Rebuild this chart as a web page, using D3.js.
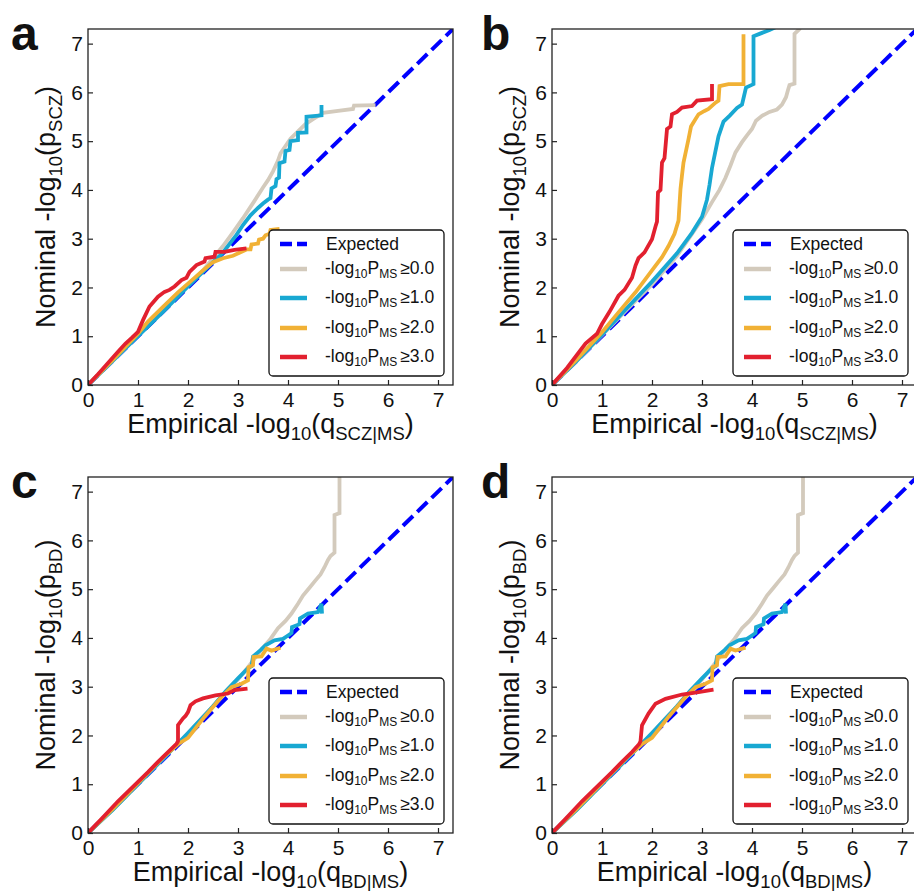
<!DOCTYPE html>
<html>
<head>
<meta charset="utf-8">
<script src="https://cdn.jsdelivr.net/npm/d3@7"></script>
<style>
  body { margin: 0; background: #fff; }
  svg { font-family: "Liberation Sans", Arial, sans-serif; }
</style>
</head>
<body>
<div id="container"></div>
<script>
// q-q curves: [empirical -log10 q, nominal -log10 p]
const aGrey = [[0,0],[0.5,0.5],[1.0,1.02],[1.5,1.55],[2.0,2.05],[2.3,2.35],[2.5,2.6],[2.7,2.85],[2.9,3.13],[3.1,3.42],[3.3,3.73],[3.5,4.05],[3.6,4.2],[3.7,4.38],[3.8,4.6],[3.85,4.75],[3.95,4.9],[4.05,5.05],[4.2,5.2],[4.35,5.35],[4.5,5.45],[4.7,5.58],[5.0,5.62],[5.3,5.66],[5.32,5.73],[5.75,5.74]];
const aCyan = [[0,0],[0.5,0.5],[1.0,1.0],[1.5,1.5],[2.0,2.02],[2.5,2.52],[2.67,2.68],[2.8,2.85],[2.95,3.05],[3.1,3.28],[3.25,3.48],[3.4,3.63],[3.5,3.72],[3.6,3.8],[3.65,3.83],[3.67,4.03],[3.75,4.08],[3.77,4.22],[3.82,4.25],[3.83,4.55],[3.93,4.58],[3.95,4.8],[4.03,4.82],[4.05,5.0],[4.2,5.02],[4.2,5.17],[4.37,5.18],[4.37,5.5],[4.67,5.53],[4.67,5.74]];
const aOrange = [[0,0],[0.5,0.52],[1.0,1.05],[1.2,1.3],[1.5,1.6],[1.8,1.9],[2.0,2.08],[2.3,2.35],[2.5,2.52],[2.7,2.6],[2.9,2.65],[3.17,2.78],[3.25,2.78],[3.27,2.88],[3.4,2.9],[3.42,2.98],[3.5,3.0],[3.55,3.07],[3.63,3.1],[3.65,3.18],[3.83,3.2]];
const aRed = [[0,0],[0.2,0.22],[0.4,0.45],[0.6,0.68],[0.75,0.85],[0.87,0.96],[1.0,1.09],[1.1,1.33],[1.23,1.61],[1.4,1.81],[1.53,1.91],[1.63,1.95],[1.73,2.02],[1.87,2.15],[1.97,2.2],[2.03,2.32],[2.17,2.46],[2.33,2.53],[2.35,2.6],[2.53,2.63],[2.55,2.73],[2.73,2.73],[2.93,2.77],[3.17,2.8]];

const bGrey = [[0,0],[0.5,0.5],[1.0,1.02],[1.5,1.55],[2.0,2.06],[2.5,2.65],[2.8,3.1],[3.0,3.4],[3.2,3.75],[3.35,4.0],[3.47,4.25],[3.57,4.5],[3.67,4.77],[3.8,4.98],[3.9,5.12],[4.0,5.25],[4.08,5.42],[4.2,5.52],[4.35,5.6],[4.5,5.65],[4.6,5.75],[4.68,5.9],[4.72,6.05],[4.75,6.15],[4.85,6.18],[4.85,7.2],[4.95,7.3],[5.0,7.6]];
const bCyan = [[0,0],[0.5,0.5],[1.0,1.03],[1.5,1.58],[2.0,2.12],[2.5,2.7],[2.8,3.12],[3.0,3.45],[3.1,3.8],[3.15,4.1],[3.2,4.45],[3.27,4.8],[3.33,5.1],[3.43,5.4],[3.55,5.52],[3.7,5.68],[3.8,5.75],[3.83,5.88],[3.88,6.1],[4.03,6.17],[4.03,7.15],[4.15,7.2],[4.35,7.28],[4.5,7.35]];
const bOrange = [[0,0],[0.5,0.53],[1.0,1.08],[1.33,1.49],[1.67,1.9],[2.0,2.35],[2.2,2.62],[2.33,2.85],[2.45,3.1],[2.53,3.37],[2.55,3.7],[2.57,4.02],[2.6,4.3],[2.63,4.56],[2.68,4.8],[2.73,5.04],[2.78,5.3],[2.85,5.42],[2.93,5.55],[3.05,5.62],[3.13,5.66],[3.27,5.79],[3.33,5.83],[3.35,6.13],[3.53,6.17],[3.83,6.17],[3.83,7.19]];
const bRed = [[0,0],[0.3,0.35],[0.67,0.85],[0.9,1.05],[1.0,1.25],[1.15,1.5],[1.33,1.83],[1.45,1.95],[1.6,2.2],[1.67,2.45],[1.73,2.6],[1.85,2.72],[2.0,2.99],[2.07,3.25],[2.1,3.35],[2.12,3.95],[2.17,4.0],[2.2,4.56],[2.25,4.65],[2.3,5.25],[2.37,5.3],[2.4,5.55],[2.5,5.6],[2.6,5.69],[2.8,5.72],[2.9,5.83],[3.2,5.86],[3.2,6.17]];

const cGrey = [[0,0],[0.5,0.48],[1.0,1.0],[1.5,1.52],[2.0,2.05],[2.5,2.6],[2.8,2.95],[3.0,3.15],[3.2,3.4],[3.35,3.6],[3.5,3.8],[3.65,3.98],[3.8,4.2],[3.95,4.35],[4.07,4.5],[4.2,4.7],[4.3,4.87],[4.43,5.03],[4.55,5.18],[4.65,5.3],[4.73,5.45],[4.8,5.6],[4.85,5.68],[4.93,5.75],[4.93,6.52],[5.03,6.56],[5.03,7.4]];
const cCyan = [[0,0],[0.5,0.48],[1.0,1.0],[1.5,1.52],[2.0,2.05],[2.5,2.6],[2.75,2.9],[3.0,3.17],[3.2,3.38],[3.27,3.42],[3.3,3.62],[3.45,3.75],[3.55,3.85],[3.73,3.95],[3.9,3.98],[4.0,4.05],[4.07,4.1],[4.08,4.22],[4.23,4.28],[4.24,4.4],[4.4,4.5],[4.6,4.53],[4.67,4.7],[4.68,4.5]];
const cOrange = [[0,0],[0.5,0.5],[1.0,1.02],[1.5,1.55],[1.8,1.82],[2.0,1.95],[2.33,2.38],[2.67,2.79],[2.87,2.99],[3.07,3.06],[3.2,3.13],[3.21,3.4],[3.3,3.44],[3.31,3.61],[3.47,3.62],[3.57,3.78],[3.67,3.74],[3.85,3.8]];
const cRed = [[0,0],[0.3,0.32],[0.6,0.65],[1.0,1.05],[1.2,1.25],[1.4,1.46],[1.6,1.66],[1.77,1.83],[1.8,1.88],[1.8,2.21],[1.9,2.35],[1.95,2.4],[2.0,2.48],[2.05,2.62],[2.15,2.7],[2.3,2.76],[2.55,2.82],[2.8,2.86],[2.93,2.93],[3.19,2.96]];

const dGrey = [[0,0],[0.5,0.48],[1.0,1.0],[1.5,1.52],[2.0,2.05],[2.5,2.6],[2.8,2.95],[3.0,3.15],[3.2,3.4],[3.35,3.6],[3.5,3.8],[3.65,3.98],[3.8,4.2],[3.95,4.35],[4.07,4.5],[4.2,4.7],[4.3,4.87],[4.43,5.03],[4.55,5.18],[4.65,5.3],[4.73,5.45],[4.8,5.6],[4.85,5.68],[4.92,5.75],[4.92,6.52],[5.02,6.56],[5.02,7.4]];
const dCyan = [[0,0],[0.5,0.48],[1.0,1.0],[1.5,1.52],[2.0,2.05],[2.5,2.6],[2.75,2.9],[3.0,3.17],[3.2,3.38],[3.27,3.42],[3.3,3.62],[3.45,3.75],[3.55,3.85],[3.73,3.95],[3.9,3.98],[4.0,4.05],[4.07,4.1],[4.08,4.22],[4.23,4.28],[4.24,4.4],[4.4,4.5],[4.6,4.53],[4.67,4.7],[4.68,4.5]];
const dOrange = [[0,0],[0.5,0.5],[1.0,1.02],[1.5,1.55],[1.8,1.82],[2.0,1.95],[2.33,2.38],[2.67,2.79],[2.87,2.99],[3.07,3.06],[3.2,3.13],[3.21,3.4],[3.3,3.44],[3.31,3.61],[3.47,3.62],[3.57,3.78],[3.67,3.74],[3.87,3.8]];
const dRed = [[0,0],[0.3,0.32],[0.6,0.65],[1.0,1.05],[1.2,1.25],[1.4,1.46],[1.6,1.66],[1.74,1.82],[1.77,1.88],[1.8,2.21],[1.93,2.45],[2.07,2.65],[2.27,2.75],[2.6,2.84],[2.93,2.89],[3.23,2.94]];

const ticks = [0, 1, 2, 3, 4, 5, 6, 7];
const thresholds = ["0.0", "1.0", "2.0", "3.0"];
const colors = ["#d3cabc", "#18a8d2", "#f1b135", "#e2202f"];

const panels = [
  { letter: "a", trait: "SCZ", cond: "SCZ|MS", series: [aGrey, aCyan, aOrange, aRed] },
  { letter: "b", trait: "SCZ", cond: "SCZ|MS", series: [bGrey, bCyan, bOrange, bRed] },
  { letter: "c", trait: "BD", cond: "BD|MS", series: [cGrey, cCyan, cOrange, cRed] },
  { letter: "d", trait: "BD", cond: "BD|MS", series: [dGrey, dCyan, dOrange, dRed] }
];

const W = 914, H = 891;
const pw = 365, ph = 356;
const origins = [[88, 29], [552, 29], [88, 477], [552, 477]];

const svg = d3.select("#container").append("svg").attr("width", W).attr("height", H);

const x = d3.scaleLinear().domain([0, 7.3]).range([0, pw]);
const y = d3.scaleLinear().domain([0, 7.3]).range([ph, 0]);
const line = d3.line().x(d => x(d[0])).y(d => y(d[1]));

panels.forEach((p, i) => {
  const [ox, oy] = origins[i];
  const g = svg.append("g").attr("transform", "translate(" + ox + "," + oy + ")");

  g.append("clipPath").attr("id", "clip" + i)
    .append("rect").attr("width", pw).attr("height", ph);

  const plot = g.append("g").attr("clip-path", "url(#clip" + i + ")");

  // expected diagonal
  plot.append("path")
    .datum([[0, 0], [7.3, 7.3]])
    .attr("d", line)
    .attr("fill", "none")
    .attr("stroke", "#0000ff")
    .attr("stroke-width", 4)
    .attr("stroke-dasharray", "14,6");

  p.series.forEach((s, k) => {
    plot.append("path")
      .datum(s)
      .attr("d", line)
      .attr("fill", "none")
      .attr("stroke", colors[k])
      .attr("stroke-width", 3.8)
      .attr("stroke-linejoin", "miter");
  });

  //Axis
  const xAxis = d3.axisBottom(x).tickValues(ticks).tickFormat(d3.format("d"))
    .tickSizeInner(-5).tickSizeOuter(0).tickPadding(7);
  const yAxis = d3.axisLeft(y).tickValues(ticks).tickFormat(d3.format("d"))
    .tickSizeInner(-5).tickSizeOuter(0).tickPadding(5);

  const gx = g.append("g").attr("transform", "translate(0," + ph + ")").call(xAxis);
  const gy = g.append("g").call(yAxis);
  [gx, gy].forEach(a => {
    a.select(".domain").remove();
    a.selectAll("line").attr("stroke", "#222").attr("stroke-width", 1.2);
    a.selectAll("text").attr("font-size", 21).attr("fill", "#111")
      .attr("font-family", "Liberation Sans, Arial, sans-serif");
  });

  // frame
  g.append("rect")
    .attr("width", pw).attr("height", ph)
    .attr("fill", "none").attr("stroke", "#222").attr("stroke-width", 1.3);

  // x title
  const xt = g.append("text")
    .attr("x", pw / 2).attr("y", ph + 48)
    .attr("text-anchor", "middle").attr("font-size", 27).attr("fill", "#111");
  xt.append("tspan").text("Empirical -log");
  xt.append("tspan").attr("font-size", 18.5).attr("dy", 7).text("10");
  xt.append("tspan").attr("dy", -7).text("(q");
  xt.append("tspan").attr("font-size", 18.5).attr("dy", 7).text(p.cond);
  xt.append("tspan").attr("dy", -7).text(")");

  // y title
  const yt = g.append("text")
    .attr("transform", "translate(-33," + ph / 2 + ") rotate(-90)")
    .attr("text-anchor", "middle").attr("font-size", 27).attr("fill", "#111");
  yt.append("tspan").text("Nominal -log");
  yt.append("tspan").attr("font-size", 18.5).attr("dy", 7).text("10");
  yt.append("tspan").attr("dy", -7).text("(p");
  yt.append("tspan").attr("font-size", 18.5).attr("dy", 7).text(p.trait);
  yt.append("tspan").attr("dy", -7).text(")");

  // panel letter
  svg.append("text")
    .attr("x", ox - (i % 2 === 0 ? 77 : 71)).attr("y", oy + 21)
    .attr("font-size", 48).attr("font-weight", "bold").attr("fill", "#111")
    .text(p.letter);

  // legend
  const lw = 175, lh = 146;
  const lg = g.append("g").attr("transform", "translate(" + (pw - 9 - lw) + "," + (ph - 9 - lh) + ")");
  lg.append("rect").attr("width", lw).attr("height", lh).attr("rx", 4)
    .attr("fill", "#fff").attr("stroke", "#111").attr("stroke-width", 1.3);
  const rows = [14, 39, 68, 98, 127];
  lg.append("line").attr("x1", 11).attr("x2", 38).attr("y1", rows[0]).attr("y2", rows[0])
    .attr("stroke", "#0000ff").attr("stroke-width", 4.5).attr("stroke-dasharray", "12,5");
  lg.append("text").attr("x", 57).attr("y", rows[0] + 6).attr("font-size", 17.5).attr("fill", "#111")
    .text("Expected");
  thresholds.forEach((t, k) => {
    const ry = rows[k + 1];
    lg.append("line").attr("x1", 11).attr("x2", 38).attr("y1", ry).attr("y2", ry)
      .attr("stroke", colors[k]).attr("stroke-width", 4.5);
    const tx = lg.append("text").attr("x", 56).attr("y", ry + 5).attr("font-size", 17.5).attr("fill", "#111");
    tx.append("tspan").text("-log");
    tx.append("tspan").attr("font-size", 12).attr("dy", 4).text("10");
    tx.append("tspan").attr("dy", -4).text("P");
    tx.append("tspan").attr("font-size", 12).attr("dy", 4).text("MS");
    tx.append("tspan").attr("dy", -4).attr("dx", 3).text("\u2265" + t);
  });
});
</script>
</body>
</html>
